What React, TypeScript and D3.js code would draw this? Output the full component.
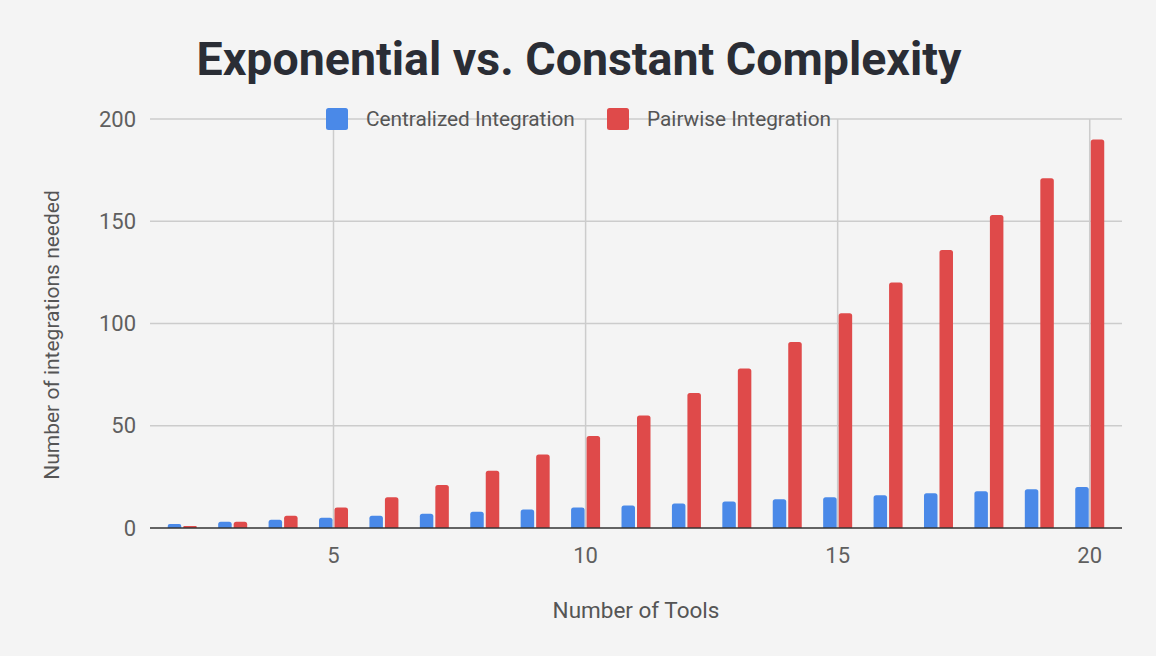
import { useEffect, useRef } from 'react';
import * as d3 from 'd3';

// number of tools in the stack
const tools = [2, 3, 4, 5, 6, 7, 8, 9, 10, 11, 12, 13, 14, 15, 16, 17, 18, 19, 20];
// one hub connection per tool
const centralized = [2, 3, 4, 5, 6, 7, 8, 9, 10, 11, 12, 13, 14, 15, 16, 17, 18, 19, 20];
// every pair of tools connected
const pairwise = [1, 3, 6, 10, 15, 21, 28, 36, 45, 55, 66, 78, 91, 105, 120, 136, 153, 171, 190];

const xTicks = [5, 10, 15, 20];
const yTicks = [0, 50, 100, 150, 200];

const seriesNames = ['Centralized Integration', 'Pairwise Integration'];
const seriesColors = ['#4a89e8', '#df4a4a'];

export default function App() {
  const chartRef = useRef<SVGSVGElement | null>(null);

  useEffect(() => {
    if (!chartRef.current) return;

    const W = 1156;
    const H = 656;
    const margin = { top: 119, right: 34, bottom: 128, left: 150 };
    const width = W - margin.left - margin.right;
    const height = H - margin.top - margin.bottom;
    const font = 'Roboto, "Noto Sans", sans-serif';

    const root = d3.select(chartRef.current);
    root.selectAll('*').remove();
    root.attr('width', W).attr('height', H).attr('viewBox', `0 0 ${W} ${H}`);

    root.append('rect').attr('width', W).attr('height', H).attr('fill', '#f4f4f4');

    // Titulo
    root.append('text')
      .attr('x', 579)
      .attr('y', 75)
      .attr('text-anchor', 'middle')
      .attr('font-family', font)
      .attr('font-weight', 700)
      .attr('font-size', 46.5)
      .attr('fill', '#2a2d35')
      .text('Exponential vs. Constant Complexity');

    const svg = root.append('g').attr('transform', `translate(${margin.left},${margin.top})`);

    const x = d3.scaleLinear().domain([1.36, 20.64]).range([0, width]);
    const y = d3.scaleLinear().domain([0, 200]).range([height, 0]);

    // Rejilla horizontal
    svg.append('g')
      .selectAll('line')
      .data(yTicks.filter((t) => t > 0))
      .enter()
      .append('line')
      .attr('x1', 0)
      .attr('x2', width)
      .attr('y1', (d) => y(d))
      .attr('y2', (d) => y(d))
      .attr('stroke', '#cccccc')
      .attr('stroke-width', 1.5);

    // Rejilla vertical
    svg.append('g')
      .selectAll('line')
      .data(xTicks)
      .enter()
      .append('line')
      .attr('x1', (d) => x(d))
      .attr('x2', (d) => x(d))
      .attr('y1', 0)
      .attr('y2', height)
      .attr('stroke', '#cccccc')
      .attr('stroke-width', 1.5);

    // Barras
    const barW = 13.5;
    const gap = 1;
    const barPath = (x0: number, v: number) => {
      const top = y(v);
      const bottom = y(0);
      const r = Math.min(2.5, (bottom - top) / 2);
      return `M${x0},${bottom}V${top + r}Q${x0},${top} ${x0 + r},${top}H${x0 + barW - r}Q${x0 + barW},${top} ${x0 + barW},${top + r}V${bottom}Z`;
    };

    const series = [centralized, pairwise];
    series.forEach((vals, si) => {
      svg.append('g')
        .selectAll('path')
        .data(tools)
        .enter()
        .append('path')
        .attr('d', (t, i) => barPath(si === 0 ? x(t) - gap - barW : x(t) + gap, vals[i]))
        .attr('fill', seriesColors[si]);
    });

    // Linea base
    svg.append('line')
      .attr('x1', 0)
      .attr('x2', width)
      .attr('y1', y(0))
      .attr('y2', y(0))
      .attr('stroke', '#333333')
      .attr('stroke-width', 1.5);

    // Etiquetas eje Y
    svg.append('g')
      .selectAll('text')
      .data(yTicks)
      .enter()
      .append('text')
      .attr('x', -14)
      .attr('y', (d) => y(d))
      .attr('dy', '0.35em')
      .attr('text-anchor', 'end')
      .attr('font-family', font)
      .attr('font-size', 22)
      .attr('fill', '#5f5f5f')
      .text((d) => d);

    // Etiquetas eje X
    svg.append('g')
      .selectAll('text')
      .data(xTicks)
      .enter()
      .append('text')
      .attr('x', (d) => x(d))
      .attr('y', height + 35)
      .attr('text-anchor', 'middle')
      .attr('font-family', font)
      .attr('font-size', 22)
      .attr('fill', '#5f5f5f')
      .text((d) => d);

    // Titulos de ejes
    root.append('text')
      .attr('x', 636)
      .attr('y', 618)
      .attr('text-anchor', 'middle')
      .attr('font-family', font)
      .attr('font-size', 22.5)
      .attr('fill', '#555555')
      .text('Number of Tools');

    root.append('text')
      .attr('transform', 'translate(59,335) rotate(-90)')
      .attr('text-anchor', 'middle')
      .attr('font-family', font)
      .attr('font-size', 21)
      .attr('fill', '#555555')
      .text('Number of integrations needed');

    // Leyenda
    const legendX = [326, 607];
    seriesNames.forEach((name, i) => {
      const g = root.append('g').attr('transform', `translate(${legendX[i]},108)`);
      g.append('rect')
        .attr('width', 22)
        .attr('height', 22)
        .attr('rx', 2.5)
        .attr('fill', seriesColors[i]);
      g.append('text')
        .attr('x', 40)
        .attr('y', 11)
        .attr('dy', '0.35em')
        .attr('font-family', font)
        .attr('font-size', 20.8)
        .attr('fill', '#555555')
        .text(name);
    });
  }, []);

  return (
    <div style={{ position: 'fixed', left: 0, top: 0, width: 1156, height: 656, background: '#f4f4f4' }}>
      <svg ref={chartRef} style={{ display: 'block' }}></svg>
    </div>
  );
}
